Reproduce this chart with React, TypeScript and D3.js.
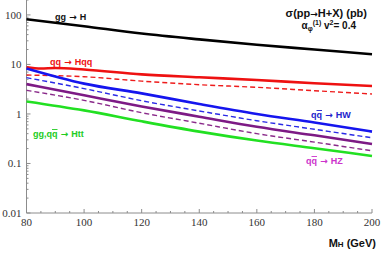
import React from "react";
import * as d3 from "d3";

// Higgs production cross sections, pb
const masses = [80, 100, 120, 140, 160, 180, 200];
const redMasses = [80, 85, 90, 100, 120, 140, 160, 180, 200];

const ggH = [82, 59, 42, 32, 25, 20, 16];
const qqHqq = [8.8, 8.3, 8.5, 7.9, 6.3, 5.5, 4.85, 4.16, 3.67];
const qqHqqSM = [6.1, 5.65, 4.6, 3.9, 3.45, 2.95, 2.53];
const qqHW = [8.3, 4.1, 2.6, 1.59, 1.0, 0.67, 0.44];
const qqHWSM = [5.4, 3.25, 1.85, 1.15, 0.73, 0.49, 0.33];
const qqHZ = [4.0, 2.38, 1.42, 0.88, 0.55, 0.37, 0.248];
const qqHZSM = [3.0, 1.88, 1.06, 0.65, 0.4, 0.27, 0.18];
const ttH = [1.79, 1.18, 0.71, 0.44, 0.29, 0.203, 0.142];

const xTicks = [80, 100, 120, 140, 160, 180, 200];
const yTicks = [0.01, 0.1, 1, 10, 100];
const yTickLabels = ["0.01", "0.1", "1", "10", "100"];

const W = 384;
const H = 254;

const x = d3.scaleLinear().domain([80, 200]).range([26.5, 372]);
const y = d3.scaleLog().domain([0.01, 200]).range([213, 0]);

const serif = "'Liberation Serif', 'Times New Roman', serif";
const sans = "'Liberation Sans', Arial, sans-serif";
const arrowFont = "'DejaVu Sans', sans-serif";

type Curve = { xs: number[]; ys: number[]; color: string; dashed?: boolean };

const curves: Curve[] = [
  { xs: masses, ys: ggH, color: "#000000" },
  { xs: masses, ys: qqHqqSM, color: "#ee1c1c", dashed: true },
  { xs: redMasses, ys: qqHqq, color: "#ee1111" },
  { xs: masses, ys: qqHWSM, color: "#2a2ae6", dashed: true },
  { xs: masses, ys: qqHW, color: "#1515ee" },
  { xs: masses, ys: qqHZSM, color: "#8a2a8a", dashed: true },
  { xs: masses, ys: qqHZ, color: "#7d1a85" },
  { xs: masses, ys: ttH, color: "#22e022" },
];

const line = d3
  .line<[number, number]>()
  .x((d) => x(d[0]))
  .y((d) => y(d[1]))
  .curve(d3.curveMonotoneX);

const Arrow = () => (
  <tspan fontFamily={arrowFont} fontWeight="bold">
    {" → "}
  </tspan>
);

const App = () => {
  const minorX = d3.range(80, 201, 5).filter((v) => v % 20 !== 0);
  const minorY: number[] = [];
  [0.01, 0.1, 1, 10, 100].forEach((dec) => {
    for (let k = 2; k <= 9; k++) if (dec * k <= 200) minorY.push(dec * k);
  });
  const axisColor = "#8c8c8c";
  const bottom = y(0.01);
  const left = x(80);

  return (
    <svg
      width={W}
      height={H}
      style={{ position: "absolute", left: 0, top: 0, background: "#fff" }}
    >
      {/* axes */}
      <line x1={left} x2={left} y1={0} y2={bottom} stroke={axisColor} strokeWidth={1} />
      <line x1={left} x2={x(200)} y1={bottom} y2={bottom} stroke={axisColor} strokeWidth={1} />
      {xTicks.map((t) => (
        <g key={"xt" + t}>
          <line x1={x(t)} x2={x(t)} y1={bottom} y2={bottom - 4} stroke={axisColor} />
          <text x={x(t)} y={bottom + 13} textAnchor="middle" fontFamily={serif} fontSize={11} fill="#333">
            {t}
          </text>
        </g>
      ))}
      {minorX.map((t) => (
        <line key={"xm" + t} x1={x(t)} x2={x(t)} y1={bottom} y2={bottom - 2} stroke={axisColor} />
      ))}
      {yTicks.map((t, i) => (
        <g key={"yt" + t}>
          <line x1={left} x2={left + 4} y1={y(t)} y2={y(t)} stroke={axisColor} />
          <text x={left - 5} y={y(t) + 4} textAnchor="end" fontFamily={serif} fontSize={11} fill="#333">
            {yTickLabels[i]}
          </text>
        </g>
      ))}
      {minorY.map((t) => (
        <line key={"ym" + t} x1={left} x2={left + 2} y1={y(t)} y2={y(t)} stroke={axisColor} />
      ))}

      {/* curves */}
      {curves.map((c, i) => (
        <path
          key={"c" + i}
          d={line(c.xs.map((m, j) => [m, c.ys[j]] as [number, number])) || ""}
          fill="none"
          stroke={c.color}
          strokeWidth={c.dashed ? 1.4 : 2.6}
          strokeDasharray={c.dashed ? "5,3" : undefined}
        />
      ))}

      {/* process labels */}
      <g fontFamily={sans} fontWeight="bold" fontSize={9}>
        <text x={55} y={20} fill="#111">gg<Arrow />H</text>
        <text x={50} y={65} fill="#ee1111">qq<Arrow />Hqq</text>
        <text x={33} y={137} fill="#22cc22">
          gg,q<tspan style={{ textDecoration: "overline" }}>q</tspan><Arrow />Htt
        </text>
        <text x={311} y={118} fill="#2222cc">
          q<tspan style={{ textDecoration: "overline" }}>q</tspan><Arrow />HW
        </text>
        <text x={306} y={164} fill="#cc33cc">
          q<tspan style={{ textDecoration: "overline" }}>q</tspan><Arrow />HZ
        </text>
      </g>

      {/* title */}
      <text x={367} y={17} textAnchor="end" fontFamily={sans} fontWeight="bold" fontSize={11} fill="#111">
        σ(pp<tspan fontFamily={arrowFont} fontSize={9}>→</tspan>H+X) (pb)
      </text>
      <text x={356} y={29} textAnchor="end" fontFamily={sans} fontWeight="bold" fontSize={10} fill="#111">
        α<tspan fontSize={7} dy={2}>φ</tspan>
        <tspan fontSize={7} dy={-6}>(1)</tspan>
        <tspan dy={4}> v</tspan>
        <tspan fontSize={7} dy={-4}>2</tspan>
        <tspan dy={4}>= 0.4</tspan>
      </text>

      {/* x axis title */}
      <text x={376} y={247} textAnchor="end" fontFamily={sans} fontWeight="bold" fontSize={11} fill="#111">
        M<tspan fontSize={8}>H</tspan> (GeV)
      </text>
    </svg>
  );
};

export default App;
